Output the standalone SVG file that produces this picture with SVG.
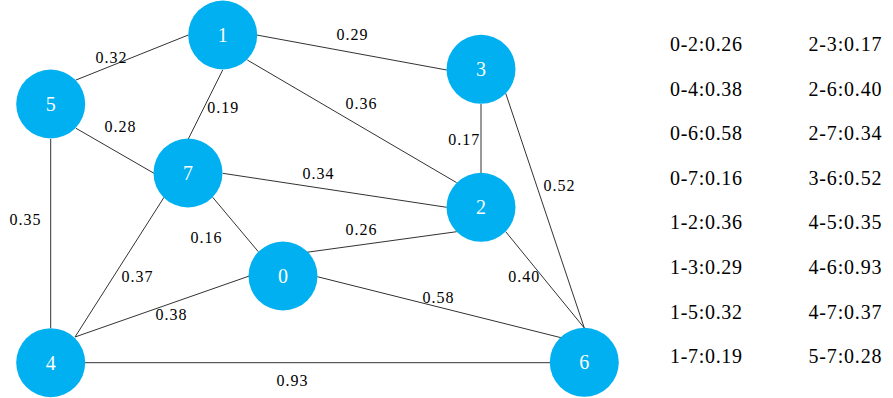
<svg xmlns="http://www.w3.org/2000/svg" width="893" height="398" viewBox="0 0 893 398">
<style>
.edge{stroke:#333;stroke-width:1;fill:none}
.node circle{fill:#00B0F0}
.node text{fill:#fff;font-family:"Liberation Serif",serif;font-size:20px;text-anchor:middle;dominant-baseline:central}
.el{fill:#000;font-family:"Liberation Serif",serif;font-size:16px;text-anchor:middle;dominant-baseline:central}
.lg{fill:#000;font-family:"Liberation Serif",serif;font-size:20px;dominant-baseline:central}
</style>
<rect width="893" height="398" fill="#fff"/>
<g id="connectors">
<line class="edge" x1="188.3" y1="35" x2="76" y2="80"/>
<line class="edge" x1="222.7" y1="70" x2="188.3" y2="139"/>
<line class="edge" x1="256.7" y1="35" x2="446.7" y2="70"/>
<line class="edge" x1="247.3" y1="60" x2="456.7" y2="182.7"/>
<line class="edge" x1="76" y1="128.3" x2="154" y2="173.3"/>
<line class="edge" x1="50.7" y1="139" x2="50.7" y2="328"/>
<line class="edge" x1="222.7" y1="173.3" x2="446.7" y2="207.3"/>
<line class="edge" x1="212.7" y1="197.3" x2="258.3" y2="251.7"/>
<line class="edge" x1="164" y1="197.3" x2="75" y2="337"/>
<line class="edge" x1="249.3" y1="276" x2="75" y2="337"/>
<line class="edge" x1="306.7" y1="252.3" x2="456.7" y2="231.7"/>
<line class="edge" x1="317.3" y1="276.7" x2="561" y2="337.7"/>
<line class="edge" x1="85" y1="362.7" x2="550" y2="362.7"/>
<line class="edge" x1="481" y1="104" x2="481" y2="173"/>
<line class="edge" x1="505.7" y1="231.7" x2="584.3" y2="328"/>
<line class="edge" x1="505.7" y1="93.3" x2="584.3" y2="328"/>
</g>
<g id="edge-labels">
<text class="el" x="111" y="57" textLength="31">0.32</text>
<text class="el" x="222.7" y="107" textLength="31">0.19</text>
<text class="el" x="120" y="126" textLength="31">0.28</text>
<text class="el" x="352" y="34.5" textLength="31">0.29</text>
<text class="el" x="361" y="103" textLength="31">0.36</text>
<text class="el" x="463.7" y="139" textLength="31">0.17</text>
<text class="el" x="318" y="173" textLength="31">0.34</text>
<text class="el" x="206" y="237" textLength="31">0.16</text>
<text class="el" x="361" y="229" textLength="31">0.26</text>
<text class="el" x="559" y="185.7" textLength="31">0.52</text>
<text class="el" x="523.7" y="276.7" textLength="31">0.40</text>
<text class="el" x="438" y="297.3" textLength="31">0.58</text>
<text class="el" x="25" y="219.3" textLength="31">0.35</text>
<text class="el" x="137" y="276" textLength="31">0.37</text>
<text class="el" x="171" y="314" textLength="31">0.38</text>
<text class="el" x="292" y="380" textLength="31">0.93</text>
</g>
<g id="node-0" class="node"><circle cx="283" cy="276" r="34.5"/><text x="283" y="276">0</text></g>
<g id="node-1" class="node"><circle cx="222.7" cy="35" r="34.5"/><text x="222.7" y="35">1</text></g>
<g id="node-2" class="node"><circle cx="481" cy="207.3" r="34.5"/><text x="481" y="207.3">2</text></g>
<g id="node-3" class="node"><circle cx="481" cy="69.3" r="34.5"/><text x="481" y="69.3">3</text></g>
<g id="node-4" class="node"><circle cx="50.7" cy="362.7" r="34.5"/><text x="50.7" y="362.7">4</text></g>
<g id="node-5" class="node"><circle cx="50.7" cy="104" r="34.5"/><text x="50.7" y="104">5</text></g>
<g id="node-6" class="node"><circle cx="584.3" cy="362.3" r="34.5"/><text x="584.3" y="362.3">6</text></g>
<g id="node-7" class="node"><circle cx="188" cy="173" r="34.5"/><text x="188" y="173">7</text></g>
<g id="legend">
<text class="lg" x="670" y="44" textLength="72">0-2:0.26</text>
<text class="lg" x="670" y="88.5" textLength="72">0-4:0.38</text>
<text class="lg" x="670" y="133" textLength="72">0-6:0.58</text>
<text class="lg" x="670" y="177.5" textLength="72">0-7:0.16</text>
<text class="lg" x="670" y="222" textLength="72">1-2:0.36</text>
<text class="lg" x="670" y="267" textLength="72">1-3:0.29</text>
<text class="lg" x="670" y="311.5" textLength="72">1-5:0.32</text>
<text class="lg" x="670" y="356" textLength="72">1-7:0.19</text>
<text class="lg" x="808.5" y="44" textLength="73">2-3:0.17</text>
<text class="lg" x="808.5" y="88.5" textLength="73">2-6:0.40</text>
<text class="lg" x="808.5" y="133" textLength="73">2-7:0.34</text>
<text class="lg" x="808.5" y="177.5" textLength="73">3-6:0.52</text>
<text class="lg" x="808.5" y="222" textLength="73">4-5:0.35</text>
<text class="lg" x="808.5" y="267" textLength="73">4-6:0.93</text>
<text class="lg" x="808.5" y="311.5" textLength="73">4-7:0.37</text>
<text class="lg" x="808.5" y="356" textLength="73">5-7:0.28</text>
</g>
</svg>
